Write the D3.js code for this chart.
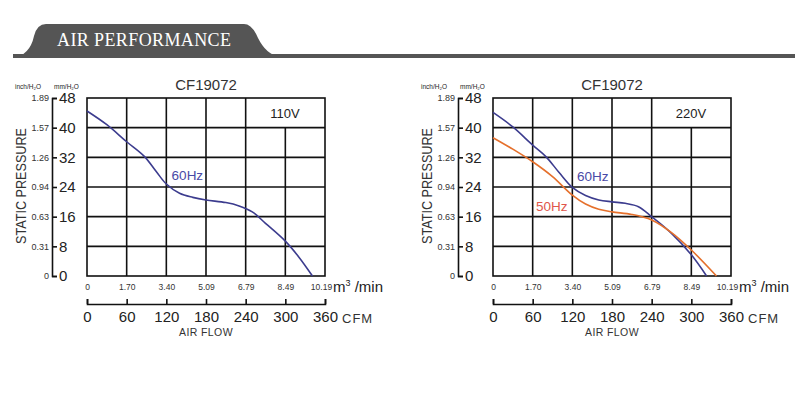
<!DOCTYPE html>
<html>
<head>
<meta charset="utf-8">
<script src="https://cdn.jsdelivr.net/npm/d3@7"></script>
<style>
  body { margin: 0; background: #fff; }
  svg text { font-family: "Liberation Sans", Arial, sans-serif; }
</style>
</head>
<body>
<div id="graph"></div>
<script>
// air flow ticks (CFM) and matching m3/min labels
var cfmTicks = [0, 60, 120, 180, 240, 300, 360];
var m3Labels = ["0", "1.70", "3.40", "5.09", "6.79", "8.49", "10.19"];
// static pressure ticks (mmH2O) and inch labels
var mmTicks = [0, 8, 16, 24, 32, 40, 48];
var inchLabels = ["0", "0.31", "0.63", "0.94", "1.26", "1.57", "1.89"];

// 110V, 60Hz
var flow110_60 = [0, 30, 60, 87, 105, 120, 140, 160, 180, 210, 230, 250, 270, 300, 320, 341];
var pres110_60 = [44.5, 40.8, 36.2, 32.2, 28.1, 24.8, 22.3, 21.2, 20.5, 19.8, 18.9, 17.3, 14.2, 9.4, 5.2, 0];
// 220V, 60Hz
var flow220_60 = [0, 30, 60, 80, 100, 120, 140, 160, 180, 200, 220, 240, 270, 300, 323];
var pres220_60 = [44.1, 40.2, 35.3, 32.2, 27.9, 23.9, 21.7, 20.5, 20, 19.6, 18.7, 16, 11.5, 5.7, 0];
// 220V, 50Hz
var flow220_50 = [0, 30, 60, 90, 120, 140, 160, 180, 210, 240, 270, 300, 338];
var pres220_50 = [37.3, 34.2, 30.8, 26.8, 21.8, 19.4, 18, 17.3, 16.6, 15.1, 11.7, 7, 0];

var blue = "#3c3c8e";
var orange = "#e5702c";

var svg = d3.select('#graph').append('svg')
            .attr('width', 803)
            .attr('height', 393);

// header tab
svg.append('rect').attr('x', 13).attr('y', 54).attr('width', 782).attr('height', 4).attr('fill', '#555');
svg.append('path')
   .attr('d', 'M13,58 Q30,55 34,36 Q37,24 46,24 L244,24 Q252,24 258,38 Q266,54 278,56 L278,58 Z')
   .attr('fill', '#555');
svg.append('text')
   .attr('x', 57).attr('y', 46)
   .style('font-family', '"Liberation Serif", "DejaVu Serif", serif')
   .style('font-size', '18px')
   .style('fill', '#fff')
   .attr('textLength', 174)
   .text('AIR PERFORMANCE');

function zip(xs, ys) {
  return xs.map(function(d, i) { return [d, ys[i]]; });
}

function styleText(sel, size, color) {
  sel.style('font-size', size + 'px')
     .style('font-family', '"Liberation Sans", Arial, sans-serif')
     .style('fill', color);
}

function drawChart(ox, voltage, series) {
  var g = svg.append('g');
  var x = d3.scaleLinear().domain([0, 360]).range([ox + 87, ox + 325]);
  var y = d3.scaleLinear().domain([0, 48]).range([276, 98]);

  // grid
  var grid = g.append('g').attr('stroke', '#111').attr('stroke-width', 1.6);
  grid.selectAll('.v').data(cfmTicks.slice(1, -1)).enter().append('line')
      .attr('x1', d => x(d)).attr('x2', d => x(d))
      .attr('y1', d => d === 300 ? y(40) : y(48))
      .attr('y2', y(0));
  grid.selectAll('.h').data(mmTicks.slice(1, -1)).enter().append('line')
      .attr('x1', x(0)).attr('x2', x(360))
      .attr('y1', d => y(d)).attr('y2', d => y(d));
  grid.append('rect')
      .attr('x', x(0)).attr('y', y(48))
      .attr('width', x(360) - x(0)).attr('height', y(0) - y(48))
      .attr('fill', 'none');

  // mm axis (bracket)
  var mmAxis = d3.axisRight(y).tickValues(mmTicks).tickSize(5).tickPadding(2);
  var ga = g.append('g').attr('transform', `translate(${ox + 52},0)`).call(mmAxis);
  ga.selectAll('path, line').attr('stroke', '#111').attr('stroke-width', 1.6);
  styleText(ga.selectAll('text'), 15, '#222');

  // inch labels
  var inAxis = d3.axisLeft(y).tickValues(mmTicks).tickFormat((d, i) => inchLabels[i]).tickSize(0).tickPadding(3);
  var gi = g.append('g').attr('transform', `translate(${ox + 52},0)`).call(inAxis);
  gi.select('.domain').remove();
  styleText(gi.selectAll('text'), 9, '#333');

  // m3/min labels
  var m3Axis = d3.axisBottom(x).tickValues(cfmTicks).tickFormat((d, i) => m3Labels[i]).tickSize(0).tickPadding(8);
  var gm = g.append('g').attr('transform', `translate(0,${y(0)})`).call(m3Axis);
  gm.select('.domain').remove();
  styleText(gm.selectAll('text'), 8.5, '#333');
  gm.selectAll('text').filter((d, i) => i === m3Labels.length - 1).attr('x', -4);

  // CFM axis
  var cfmAxis = d3.axisBottom(x).tickValues(cfmTicks).tickSize(-5).tickPadding(7);
  var gc = g.append('g').attr('transform', 'translate(0,304)').call(cfmAxis);
  gc.selectAll('path, line').attr('stroke', '#111').attr('stroke-width', 1.6);
  styleText(gc.selectAll('text'), 15, '#222');

  // texts
  var unit = g.append('text').attr('x', ox + 333).attr('y', 292);
  styleText(unit, 15, '#222');
  unit.append('tspan').text('m');
  unit.append('tspan').attr('dy', -6).style('font-size', '9px').text('3');
  unit.append('tspan').attr('dy', 6).text(' /min');
  styleText(g.append('text').attr('x', ox + 342).attr('y', 323)
   .style('letter-spacing', '1px').text('CFM'), 13, '#333');
  styleText(g.append('text').attr('x', ox + 206).attr('y', 336).attr('text-anchor', 'middle')
   .style('letter-spacing', '0.4px').text('AIR FLOW'), 10.5, '#333');
  styleText(g.append('text').attr('x', ox + 206).attr('y', 90).attr('text-anchor', 'middle')
   .text('CF19072'), 15, '#333');
  styleText(g.append('text').attr('x', ox + 15).attr('y', 89).text('inch/H\u2082O'), 6.5, '#222');
  styleText(g.append('text').attr('x', ox + 54).attr('y', 89).text('mm/H\u2082O'), 6.5, '#222');
  styleText(g.append('text').attr('x', ox + 285).attr('y', 118).attr('text-anchor', 'middle')
   .text(voltage), 13, '#222');
  styleText(g.append('text')
   .attr('transform', `translate(${ox + 26},186) rotate(-90)`)
   .attr('text-anchor', 'middle')
   .attr('textLength', 116).attr('lengthAdjust', 'spacingAndGlyphs')
   .text('STATIC PRESSURE'), 14, '#333');

  // curves
  var line = d3.line().x(d => x(d[0])).y(d => y(d[1])).curve(d3.curveCatmullRom.alpha(0.5));
  series.forEach(function(s) {
    g.append('path').datum(zip(s.flow, s.pres))
     .attr('d', line)
     .attr('fill', 'none')
     .attr('stroke', s.color)
     .attr('stroke-width', 1.6);
    styleText(g.append('text').attr('x', x(s.labelAt[0])).attr('y', y(s.labelAt[1]))
     .text(s.name), 13.5, s.labelColor);
  });
}

drawChart(0, '110V', [
  { name: '60Hz', flow: flow110_60, pres: pres110_60, color: blue, labelColor: '#4a4aa6', labelAt: [128, 25.9] }
]);
drawChart(406, '220V', [
  { name: '60Hz', flow: flow220_60, pres: pres220_60, color: blue, labelColor: '#4a4aa6', labelAt: [127, 25.6] },
  { name: '50Hz', flow: flow220_50, pres: pres220_50, color: orange, labelColor: '#e0564a', labelAt: [65, 17.5] }
]);
</script>
</body>
</html>
